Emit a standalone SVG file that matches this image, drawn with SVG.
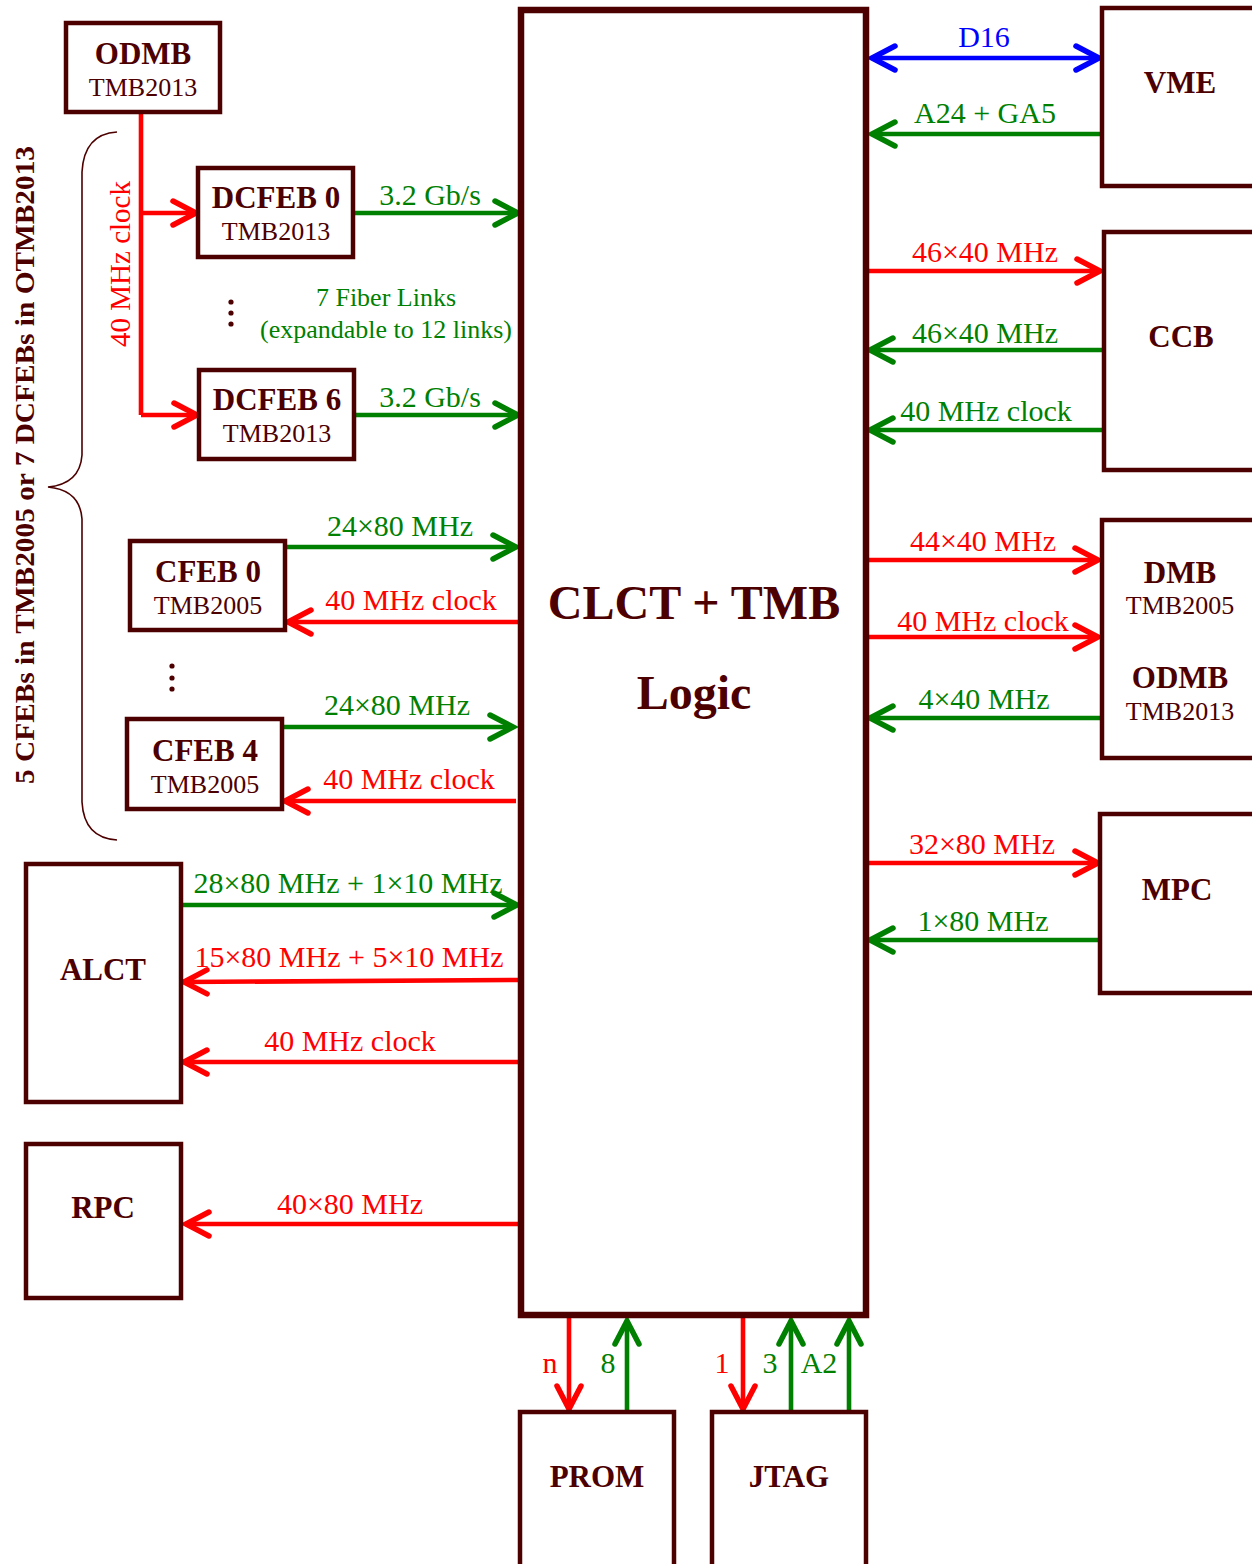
<svg xmlns="http://www.w3.org/2000/svg" width="1252" height="1564" viewBox="0 0 1252 1564">
<style>
text{font-family:"Liberation Serif","Times New Roman",serif;}
.box{fill:#fff;stroke:#4d0000;stroke-width:4.5;}
.main{fill:#fff;stroke:#4d0000;stroke-width:6.5;}
.t{font-weight:bold;font-size:31px;fill:#4d0000;text-anchor:middle;}
.big{font-size:48px;}
.s{font-size:26px;fill:#4d0000;text-anchor:middle;}
.g{fill:#008000;}
.r{fill:#ff0000;}
.b{fill:#0000ff;}
.lbl{font-size:30px;text-anchor:middle;}
.ln{fill:none;stroke-width:4.6;}
.lr{stroke:#ff0000;}
.lg{stroke:#008000;}
.lb{stroke:#0000ff;}
.mr{marker-end:url(#ar);}
.mg{marker-end:url(#ag);}
</style>
<defs>
<marker id="ar" markerUnits="userSpaceOnUse" markerWidth="40" markerHeight="40" refX="0" refY="0" viewBox="-30 -20 40 40" orient="auto" overflow="visible"><path d="M-23,-12 L0,0 L-23,12" fill="none" stroke="#ff0000" stroke-width="5.5" stroke-linecap="round" stroke-linejoin="miter"/></marker>
<marker id="ag" markerUnits="userSpaceOnUse" markerWidth="40" markerHeight="40" refX="0" refY="0" viewBox="-30 -20 40 40" orient="auto" overflow="visible"><path d="M-23,-12 L0,0 L-23,12" fill="none" stroke="#008000" stroke-width="5.5" stroke-linecap="round" stroke-linejoin="miter"/></marker>
<marker id="ab" markerUnits="userSpaceOnUse" markerWidth="40" markerHeight="40" refX="0" refY="0" viewBox="-30 -20 40 40" orient="auto-start-reverse" overflow="visible"><path d="M-23,-12 L0,0 L-23,12" fill="none" stroke="#0000ff" stroke-width="5.5" stroke-linecap="round" stroke-linejoin="miter"/></marker>
</defs>
<rect width="1252" height="1564" fill="#fff"/>

<g id="connectors">
<path class="ln lr" d="M141,112 V415"/>
<path class="ln lr mr" d="M141,213 H196"/>
<path class="ln lr mr" d="M141,415 H197"/>
<text class="r" font-size="29" text-anchor="middle" transform="translate(130,264) rotate(-90)">40 MHz clock</text>
<path class="ln lg mg" d="M353,213 H518"/>
<text class="lbl g" x="430" y="205">3.2 Gb/s</text>
<path class="ln lg mg" d="M354,415 H518"/>
<text class="lbl g" x="430" y="407">3.2 Gb/s</text>
<text class="g" font-size="26" text-anchor="middle" x="386" y="306">7 Fiber Links</text>
<text class="g" font-size="26" text-anchor="middle" x="386" y="338">(expandable to 12 links)</text>
<path class="ln lg mg" d="M285,547 H516"/>
<text class="lbl g" x="400" y="536">24×80 MHz</text>
<path class="ln lr mr" d="M519,622 H288"/>
<text class="lbl r" x="411" y="610">40 MHz clock</text>
<path class="ln lg mg" d="M282,727 H513"/>
<text class="lbl g" x="397" y="715">24×80 MHz</text>
<path class="ln lr mr" d="M516,801 H285"/>
<text class="lbl r" x="409" y="789">40 MHz clock</text>
<path class="ln lg mg" d="M181,905 H517"/>
<text class="lbl g" x="348" y="893">28×80 MHz + 1×10 MHz</text>
<path class="ln lr mr" d="M519,980 L184,982"/>
<text class="lbl r" x="349" y="967">15×80 MHz + 5×10 MHz</text>
<path class="ln lr mr" d="M519,1062 H184"/>
<text class="lbl r" x="350" y="1051">40 MHz clock</text>
<path class="ln lr mr" d="M519,1224 H186"/>
<text class="lbl r" x="350" y="1214">40×80 MHz</text>
<path class="ln lb" d="M872,58 H1099" marker-start="url(#ab)" marker-end="url(#ab)"/>
<text class="lbl b" x="984" y="47">D16</text>
<path class="ln lg mg" d="M1102,134 H872"/>
<text class="lbl g" x="985" y="123">A24 + GA5</text>
<path class="ln lr mr" d="M867,271 H1100"/>
<text class="lbl r" x="985" y="262">46×40 MHz</text>
<path class="ln lg mg" d="M1104,350 H870"/>
<text class="lbl g" x="985" y="343">46×40 MHz</text>
<path class="ln lg mg" d="M1104,430 H870"/>
<text class="lbl g" x="986" y="421">40 MHz clock</text>
<path class="ln lr mr" d="M867,560 H1098"/>
<text class="lbl r" x="983" y="551">44×40 MHz</text>
<path class="ln lr mr" d="M867,637 H1098"/>
<text class="lbl r" x="983" y="631">40 MHz clock</text>
<path class="ln lg mg" d="M1102,718 H870"/>
<text class="lbl g" x="984" y="709">4×40 MHz</text>
<path class="ln lr mr" d="M867,863 H1098"/>
<text class="lbl r" x="982" y="854">32×80 MHz</text>
<path class="ln lg mg" d="M1100,940 H870"/>
<text class="lbl g" x="983" y="931">1×80 MHz</text>
<path class="ln lr mr" d="M569,1318 V1409"/>
<text class="lbl r" x="550" y="1373">n</text>
<path class="ln lg mg" d="M627,1412 V1321"/>
<text class="lbl g" x="608" y="1373">8</text>
<path class="ln lr mr" d="M743,1318 V1409"/>
<text class="lbl r" x="722" y="1373">1</text>
<path class="ln lg mg" d="M791,1412 V1321"/>
<text class="lbl g" x="770" y="1373">3</text>
<path class="ln lg mg" d="M849,1412 V1321"/>
<text class="lbl g" x="819" y="1373">A2</text>
</g>

<g id="brace">
<path d="M117,132 Q84,134 82,172 L82,455 Q80,484 48,487 Q80,490 82,519 L82,802 Q84,838 117,840" fill="none" stroke="#4d0000" stroke-width="1.6"/>
<text font-weight="bold" font-size="28" fill="#4d0000" text-anchor="middle" textLength="638" lengthAdjust="spacingAndGlyphs" transform="translate(34,465) rotate(-90)">5 CFEBs in TMB2005 or 7 DCFEBs in OTMB2013</text>
<g fill="#4d0000"><circle cx="231" cy="302" r="2.6"/><circle cx="231" cy="313" r="2.6"/><circle cx="231" cy="324" r="2.6"/>
<circle cx="172" cy="666" r="2.6"/><circle cx="172" cy="678" r="2.6"/><circle cx="172" cy="689" r="2.6"/></g>
</g>

<g id="main">
<rect class="main" x="521" y="10" width="345" height="1305"/>
<text class="t big" x="694" y="619">CLCT + TMB</text>
<text class="t big" x="694" y="709">Logic</text>
</g>
<g id="odmb"><rect class="box" x="66" y="23" width="154" height="89"/><text class="t" x="143" y="64">ODMB</text><text class="s" x="143" y="96">TMB2013</text></g>
<g id="dcfeb0"><rect class="box" x="198" y="168" width="155" height="89"/><text class="t" x="276" y="208">DCFEB 0</text><text class="s" x="276" y="240">TMB2013</text></g>
<g id="dcfeb6"><rect class="box" x="199" y="370" width="155" height="89"/><text class="t" x="277" y="410">DCFEB 6</text><text class="s" x="277" y="442">TMB2013</text></g>
<g id="cfeb0"><rect class="box" x="130" y="541" width="155" height="89"/><text class="t" x="208" y="582">CFEB 0</text><text class="s" x="208" y="614">TMB2005</text></g>
<g id="cfeb4"><rect class="box" x="127" y="719" width="155" height="90"/><text class="t" x="205" y="761">CFEB 4</text><text class="s" x="205" y="793">TMB2005</text></g>
<g id="alct"><rect class="box" x="26" y="864" width="155" height="238"/><text class="t" x="103" y="980">ALCT</text></g>
<g id="rpc"><rect class="box" x="26" y="1144" width="155" height="154"/><text class="t" x="103" y="1218">RPC</text></g>
<g id="prom"><rect class="box" x="520" y="1412" width="154" height="170"/><text class="t" x="597" y="1487">PROM</text></g>
<g id="jtag"><rect class="box" x="712" y="1412" width="154" height="170"/><text class="t" x="789" y="1487">JTAG</text></g>
<g id="vme"><rect class="box" x="1102" y="8" width="170" height="178"/><text class="t" x="1180" y="93">VME</text></g>
<g id="ccb"><rect class="box" x="1104" y="232" width="170" height="238"/><text class="t" x="1181" y="347">CCB</text></g>
<g id="dmb"><rect class="box" x="1102" y="520" width="170" height="238"/><text class="t" x="1180" y="583">DMB</text><text class="s" x="1180" y="614">TMB2005</text><text class="t" x="1180" y="688">ODMB</text><text class="s" x="1180" y="720">TMB2013</text></g>
<g id="mpc"><rect class="box" x="1100" y="814" width="170" height="179"/><text class="t" x="1177" y="900">MPC</text></g>
</svg>
